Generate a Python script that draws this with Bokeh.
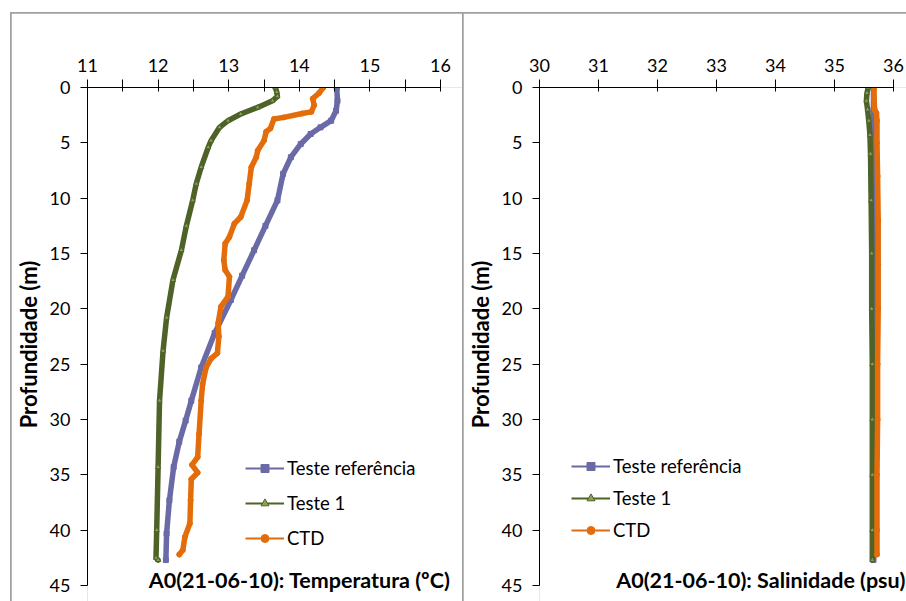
from bokeh.plotting import figure
from bokeh.models import (Range1d, FixedTicker, Legend, LegendItem, Label)
from bokeh.layouts import row
from bokeh.embed import file_html
from bokeh.resources import INLINE

# ---------------- data: A0 station profile, 21-06-10 ----------------
series_names = ["Teste referência", "Teste 1", "CTD"]

# Temperature (ºC) vs depth (m)
ref_T_depth = [0, 1.2, 2.1, 3.0, 3.6, 4.2, 5.1, 6.3, 7.8, 10.2, 12.5, 14.7, 17.0,
               19.2, 22.2, 25.3, 28.3, 30.1, 32.0, 34.3, 37.3, 40.3, 42.7]
ref_T = [14.53, 14.54, 14.52, 14.45, 14.30, 14.16, 14.02, 13.88, 13.77, 13.69,
         13.52, 13.36, 13.19, 13.03, 12.80, 12.61, 12.47, 12.39, 12.30, 12.22,
         12.16, 12.12, 12.11]

t1_T_depth = [0, 0.4, 0.8, 1.2, 1.8, 2.4, 3.0, 3.6, 4.8, 5.4, 7.2, 8.7, 10.2,
              12.5, 14.7, 17.4, 20.8, 23.8, 28.3, 34.3, 40.0, 42.5, 42.7]
t1_T = [13.66, 13.68, 13.69, 13.62, 13.41, 13.17, 12.99, 12.87, 12.75, 12.71,
        12.61, 12.54, 12.49, 12.40, 12.33, 12.21, 12.12, 12.07, 12.02, 12.00,
        11.98, 11.97, 12.00]

ctd_T_depth = [0, 0.5, 1.0, 1.6, 2.2, 2.35, 2.7, 2.85, 3.7, 4.0, 4.8, 5.7, 6.3,
               7.2, 8.7, 10.2, 11.7, 12.3, 13.5, 14.1, 15.6, 16.5, 17.1, 18.9,
               19.8, 21.3, 22.5, 24.0, 24.5, 25.3, 26.8, 28.3, 31.3, 33.4, 34.1,
               34.8, 35.4, 37.3, 39.4, 40.6, 41.8, 42.2]
ctd_T = [14.34, 14.28, 14.19, 14.21, 14.17, 14.04, 13.78, 13.64, 13.59, 13.53,
         13.50, 13.41, 13.39, 13.32, 13.29, 13.26, 13.17, 13.08, 13.01, 12.95,
         12.93, 12.95, 13.01, 12.99, 12.89, 12.85, 12.86, 12.84, 12.75, 12.68,
         12.63, 12.61, 12.58, 12.56, 12.48, 12.56, 12.47, 12.46, 12.45, 12.38,
         12.35, 12.30]

# Salinity (psu) vs depth (m)
ref_S_depth = [0, 2.0, 5.0, 10.0, 20.0, 30.0, 42.7]
ref_S = [35.66, 35.66, 35.67, 35.67, 35.67, 35.67, 35.66]

t1_S_depth = [0, 0.5, 1.2, 2.0, 3.0, 4.3, 6.0, 10.2, 15.0, 20.0, 25.0, 30.0,
              35.0, 40.0, 42.7]
t1_S = [35.57, 35.55, 35.54, 35.56, 35.58, 35.60, 35.61, 35.62, 35.63, 35.63,
        35.64, 35.64, 35.64, 35.64, 35.64]

ctd_S_depth = [0, 1.0, 2.0, 2.3, 3.0, 5.0, 8.0, 12.0, 16.0, 20.0, 25.0, 30.0,
               35.0, 40.0, 42.2]
ctd_S = [35.67, 35.67, 35.68, 35.71, 35.72, 35.72, 35.73, 35.74, 35.74, 35.74,
         35.73, 35.73, 35.72, 35.72, 35.72]

depth_ticks = [0, 5, 10, 15, 20, 25, 30, 35, 40, 45]
temp_ticks = [11, 12, 13, 14, 15, 16]
temp_minor = [11.5, 12.5, 13.5, 14.5, 15.5]
sal_ticks = [30, 31, 32, 33, 34, 35, 36]

# ---------------- styling ----------------
FONT = "Lato"
COLORS = ["#6a6aa6", "#4f6228", "#e46c0a"]
MARKERS = ["square", "triangle", "circle"]
FILLS = ["#6a6aa6", "#8aa35a", "#e46c0a"]
BORDER_GRAY = "#a0a0a0"

CANVAS_H = 588      # chart height below the 1px border
AXIS_TOP = 74       # space above the depth-0 axis
AXIS_SPAN_PX = 498  # pixels from depth 0 to depth 45


def make_panel(width, left, axis_px, xlim, xticks, xminor, series, title,
               title_inset, legend_loc, legend_spacing):
    # The frame runs to the right and bottom edges of the canvas so that the
    # in-plot title and legend are never clipped; axes are bounded to the data span.
    x0, x1 = xlim
    per_px_x = (x1 - x0) / axis_px
    frame_w = width - left
    frame_h = CANVAS_H - AXIS_TOP
    y_end = 45 * frame_h / AXIS_SPAN_PX
    p = figure(width=width, height=CANVAS_H, output_backend="svg", toolbar_location=None,
               x_range=Range1d(x0, x0 + frame_w * per_px_x), y_range=Range1d(y_end, 0),
               x_axis_location="above", min_border_left=left, min_border_right=0,
               min_border_top=AXIS_TOP, min_border_bottom=0)
    p.outline_line_color = None
    p.xgrid.visible = False
    p.ygrid.visible = False
    p.background_fill_color = "white"
    p.border_fill_color = "white"

    xa = p.xaxis[0]
    xa.bounds = (x0, x1)
    xa.ticker = FixedTicker(ticks=xticks, minor_ticks=xminor)
    xa.major_tick_in = 4
    xa.major_tick_out = 8
    xa.minor_tick_in = 4
    xa.minor_tick_out = 8
    xa.major_label_standoff = 8
    ya = p.yaxis[0]
    ya.bounds = (0, 45)
    ya.ticker = FixedTicker(ticks=depth_ticks)
    ya.major_tick_in = 0
    ya.major_tick_out = 7
    ya.minor_tick_in = 0
    ya.minor_tick_out = 0
    ya.major_label_standoff = 10
    ya.axis_label = "Profundidade (m)"
    ya.axis_label_text_font = FONT
    ya.axis_label_text_font_style = "bold"
    ya.axis_label_text_font_size = "22px"
    ya.axis_label_text_color = "black"
    ya.axis_label_standoff = 5
    for ax in (xa, ya):
        ax.axis_line_color = "black"
        ax.axis_line_width = 1
        ax.major_tick_line_color = "black"
        ax.minor_tick_line_color = "black"
        ax.major_label_text_font = FONT
        ax.major_label_text_font_size = "18px"
        ax.major_label_text_color = "black"

    items = []
    for name, (xs, ds), c, m, f in zip(series_names, series, COLORS, MARKERS, FILLS):
        # heavy stroke: the densely sampled profile
        p.line(xs, ds, line_color=c, line_width=5.5, line_join="round", line_cap="round")
        ln = p.line(xs, ds, line_color=c, line_width=2)
        sc = p.scatter(xs, ds, marker=m, size=5, fill_color=f, line_color=c)
        items.append(LegendItem(label=name, renderers=[ln, sc]))

    leg = Legend(items=items, location=legend_loc, orientation="vertical")
    leg.border_line_color = None
    leg.background_fill_alpha = 0
    leg.padding = 0
    leg.margin = 0
    leg.spacing = legend_spacing
    leg.glyph_width = 39
    leg.glyph_height = 20
    leg.label_height = 20
    leg.label_standoff = 3
    leg.label_text_font = FONT
    leg.label_text_font_size = "18.5px"
    leg.label_text_color = "black"
    p.add_layout(leg)

    # title set in the lower right corner, inside the chart area
    p.add_layout(Label(x=frame_w - title_inset, y=22, x_units="screen", y_units="screen",
                       text=title, text_align="right", text_baseline="middle",
                       text_font=FONT, text_font_style="bold",
                       text_font_size="21.5px", text_color="black"))
    return p


p1 = make_panel(451, 75, 354, (11, 16), temp_ticks, temp_minor,
                [(ref_T, ref_T_depth), (t1_T, t1_T_depth), (ctd_T, ctd_T_depth)],
                "A0(21-06-10): Temperatura (ºC)", 13, (158, 52), 13)
p2 = make_panel(443, 75, 355, (30, 36), sal_ticks, [],
                [(ref_S, ref_S_depth), (t1_S, t1_S_depth), (ctd_S, ctd_S_depth)],
                "A0(21-06-10): Salinidade (psu)", 2, (32, 60), 10)

p1.margin = (1, 0, 0, 1)
p2.margin = (1, 0, 0, 1)
page = row(p1, p2, margin=(12, 0, 0, 10), spacing=0,
           styles={"background-color": BORDER_GRAY})

open("out.html", "w").write(file_html(page, INLINE))
